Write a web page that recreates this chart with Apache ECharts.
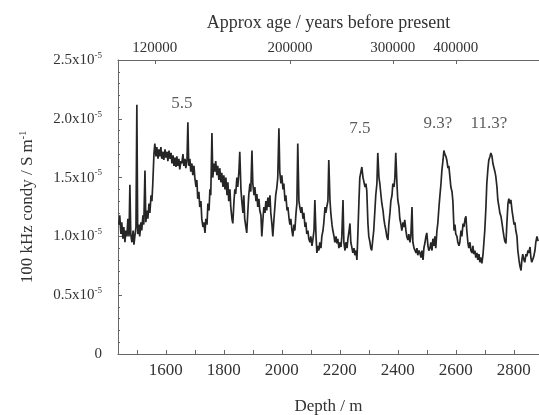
<!DOCTYPE html>
<html><head><meta charset="utf-8">
<script src="https://cdn.jsdelivr.net/npm/echarts@6/dist/echarts.min.js"></script>
<style>html,body{margin:0;padding:0;background:#fff}#c{width:539px;height:415px}</style>
</head><body><div id="c"></div>
<script>
// Depth (m) and conductivity (units of 1e-5 S/m)
var depths = [1438,1441,1445,1448,1452,1455,1459,1462,1466,1469,1473,1476,1479,1483,1487,1490,1493,1497,1500,1503,1507,1510,1514,1517,1521,1524,1528,1531,1535,1538,1542,1545,1549,1552,1555,1559,1562,1566,1569,1573,1576,1579,1583,1586,1590,1593,1597,1600,1604,1607,1611,1614,1618,1621,1625,1628,1632,1635,1638,1641,1645,1648,1652,1655,1659,1662,1666,1669,1673,1676,1679,1683,1686,1690,1693,1697,1700,1704,1707,1710,1714,1717,1721,1724,1728,1731,1735,1738,1742,1745,1749,1752,1755,1759,1762,1766,1769,1772,1776,1779,1783,1786,1790,1793,1797,1800,1804,1807,1811,1814,1817,1821,1824,1828,1831,1835,1838,1841,1845,1848,1852,1855,1859,1862,1866,1869,1872,1876,1879,1883,1886,1890,1893,1897,1900,1904,1907,1911,1914,1917,1921,1924,1928,1931,1935,1938,1942,1945,1948,1952,1955,1959,1962,1966,1969,1973,1976,1979,1983,1986,1990,1993,1997,2000,2004,2007,2011,2014,2018,2021,2025,2028,2031,2035,2038,2042,2045,2049,2052,2055,2059,2062,2066,2069,2073,2076,2080,2083,2086,2090,2093,2097,2100,2104,2107,2111,2114,2118,2121,2125,2128,2131,2135,2138,2142,2145,2149,2152,2155,2159,2162,2166,2169,2173,2176,2180,2183,2187,2190,2193,2197,2200,2204,2207,2211,2214,2218,2221,2225,2228,2232,2235,2238,2242,2245,2249,2252,2256,2259,2262,2266,2269,2273,2276,2280,2283,2287,2290,2293,2297,2300,2304,2307,2310,2314,2317,2321,2324,2328,2331,2335,2338,2342,2345,2349,2352,2355,2359,2362,2366,2369,2373,2376,2380,2383,2387,2390,2393,2397,2400,2404,2407,2411,2414,2418,2421,2424,2428,2431,2435,2438,2442,2445,2449,2452,2456,2459,2463,2466,2469,2473,2476,2480,2483,2487,2490,2494,2497,2500,2504,2507,2511,2514,2518,2521,2525,2528,2531,2535,2538,2542,2545,2549,2552,2556,2559,2562,2566,2569,2573,2576,2580,2583,2587,2590,2594,2597,2600,2604,2607,2611,2614,2618,2621,2625,2628,2632,2635,2638,2642,2645,2649,2652,2656,2659,2662,2666,2669,2673,2676,2680,2683,2687,2690,2694,2697,2700,2704,2707,2711,2714,2718,2721,2725,2728,2731,2735,2738,2742,2745,2749,2752,2756,2759,2763,2766,2769,2773,2776,2780,2783,2787,2790,2794,2797,2801,2804,2807,2811,2814,2818,2821,2825,2828,2831,2835,2838,2842,2845,2849,2852,2856,2859,2862,2866,2869,2873,2876,2880,2884];
var condy = [1.10,1.18,1.02,1.12,0.98,1.08,0.95,1.05,1.00,1.15,1.00,1.44,1.02,0.95,1.05,0.93,1.00,1.08,2.12,1.02,1.10,1.00,1.12,1.05,1.18,1.10,1.56,1.12,1.22,1.15,1.28,1.20,1.35,1.30,1.45,1.70,1.79,1.68,1.76,1.66,1.74,1.68,1.76,1.66,1.72,1.65,1.74,1.67,1.72,1.64,1.73,1.66,1.71,1.62,1.69,1.60,1.67,1.59,1.68,1.60,1.66,1.57,1.64,1.62,1.70,1.60,1.66,1.58,1.65,1.97,1.60,1.66,1.55,1.62,1.52,1.60,1.50,1.42,1.48,1.32,1.38,1.25,1.30,1.15,1.08,1.12,1.03,1.15,1.10,1.28,1.22,1.40,1.35,1.88,1.50,1.62,1.55,1.64,1.52,1.60,1.48,1.58,1.46,1.54,1.42,1.52,1.40,1.50,1.35,1.46,1.30,1.40,1.25,1.15,1.11,1.30,1.40,1.36,1.50,1.42,1.55,1.72,1.40,1.30,1.20,1.35,1.15,1.08,1.03,1.22,1.35,1.45,1.38,1.73,1.45,1.35,1.42,1.30,1.36,1.25,1.32,1.22,1.18,1.00,1.15,1.25,1.20,1.30,1.22,1.33,1.25,1.35,1.20,1.10,1.00,1.15,1.25,1.35,1.42,1.50,1.92,1.55,1.45,1.52,1.40,1.45,1.30,1.35,1.22,1.25,1.15,1.10,1.15,1.05,1.00,1.10,1.05,1.20,1.28,1.79,1.30,1.25,1.20,1.25,1.15,1.20,1.08,1.12,1.02,1.05,0.98,0.95,1.00,0.92,0.97,1.05,1.31,1.00,0.86,0.92,0.88,0.95,0.90,1.00,1.05,1.12,1.25,1.20,1.25,1.30,1.65,1.31,1.20,1.10,1.05,1.00,0.95,1.00,0.94,0.98,0.90,0.95,0.91,1.00,1.31,0.95,0.88,0.95,0.90,0.98,1.05,1.11,0.95,0.90,0.86,0.90,0.84,0.88,0.80,1.00,1.30,1.50,1.55,1.59,1.50,1.51,1.42,1.45,1.39,1.11,1.00,0.95,0.90,0.88,0.98,1.05,1.22,1.35,1.45,1.71,1.50,1.45,1.35,1.28,1.22,1.15,1.10,1.05,1.00,0.97,1.10,1.20,1.30,1.35,1.45,1.42,1.50,1.71,1.45,1.31,1.25,1.15,1.10,1.05,1.12,1.08,1.14,1.05,1.00,0.97,1.02,0.95,1.00,1.25,0.95,0.90,0.91,0.86,0.90,0.84,0.88,0.86,0.82,0.88,0.80,0.90,0.95,1.00,1.03,0.92,0.88,0.90,0.95,0.88,0.98,0.92,1.00,0.90,1.05,1.11,1.25,1.34,1.45,1.56,1.65,1.73,1.70,1.68,1.65,1.58,1.60,1.50,1.42,1.38,1.30,1.05,1.10,1.02,1.00,0.95,0.92,0.95,1.05,1.00,1.11,1.08,1.15,1.17,1.05,0.94,0.90,0.95,0.88,0.86,0.92,0.85,0.88,0.82,0.86,0.80,0.85,0.78,0.82,0.77,0.85,0.95,1.05,1.25,1.45,1.58,1.65,1.68,1.71,1.68,1.62,1.63,1.55,1.51,1.42,1.31,1.25,1.20,1.17,1.12,1.05,1.00,0.96,0.94,1.10,1.28,1.32,1.28,1.31,1.22,1.17,1.10,1.12,1.05,1.00,0.88,0.80,0.75,0.71,0.80,0.85,0.80,0.78,0.85,0.83,0.88,0.86,0.91,0.82,0.78,0.77,0.83,0.88,0.95,1.00,0.96];

// Bottom axis tick labels
var depthTicks = [1600,1800,2000,2200,2400,2600,2800];
var depthMinorTicks = [1500,1600,1700,1800,1900,2000,2100,2200,2300,2400,2500,2600,2700,2800];
// Top axis: depth positions and the approximate ages shown there
var ageDepths = [1562,2028,2383,2600];
var ageLabels = ['120000','200000','300000','400000'];
// Y ticks (units of 1e-5)
var yTicks = [0,0.5,1.0,1.5,2.0,2.5];
// Stage annotations
var stageNames = ['5.5','7.5','9.3?','11.3?'];
var stageDepth = [1655,2269,2538,2714];
var stageValue = [2.13,1.92,1.96,1.96];

var SERIF = '"Liberation Serif","DejaVu Serif",serif';
var TXT = '#333';
var AX = '#666';

var lineData = depths.map(function(d,i){return [d,condy[i]];});
var annoData = stageNames.map(function(n,i){return {name:n,value:[stageDepth[i],stageValue[i]]};});

var chart = echarts.init(document.getElementById('c'),null,{renderer:'canvas'});
chart.setOption({
  animation:false,
  backgroundColor:'#fff',
  grid:{left:118,right:0,top:60,bottom:61,containLabel:false,outerBoundsMode:'none'},
  xAxis:[{
    type:'value',min:1435,max:2887,position:'bottom',
    name:'Depth / m',nameLocation:'middle',nameGap:44,
    nameTextStyle:{fontFamily:SERIF,fontSize:17,color:TXT},
    axisLine:{lineStyle:{color:AX,width:1}},
    axisTick:{inside:true,length:4,lineStyle:{color:AX},customValues:depthMinorTicks},
    axisLabel:{customValues:depthTicks,fontFamily:SERIF,fontSize:17,color:TXT,margin:8,
      formatter:function(v){return String(v);}},
    splitLine:{show:false}
  },{
    type:'value',min:1435,max:2887,position:'top',
    name:'Approx age / years before present',nameLocation:'middle',nameGap:28,
    nameTextStyle:{fontFamily:SERIF,fontSize:18,color:TXT},
    axisLine:{show:true,lineStyle:{color:AX,width:1}},
    axisTick:{inside:true,length:4,lineStyle:{color:AX},customValues:ageDepths},
    axisLabel:{customValues:ageDepths,fontFamily:SERIF,fontSize:15,color:TXT,margin:4,
      formatter:function(v){var i=ageDepths.indexOf(v);return i>=0?ageLabels[i]:'';}},
    splitLine:{show:false}
  }],
  yAxis:{
    type:'value',min:0,max:2.5,
    name:'100 kHz condy / S m{sup|-1}',nameLocation:'middle',nameGap:80,nameRotate:90,
    nameTextStyle:{fontFamily:SERIF,fontSize:17,color:TXT,rich:{sup:{fontSize:10,fontFamily:SERIF,color:TXT,padding:[0,0,10,0]}}},
    axisLine:{show:true,lineStyle:{color:AX,width:1}},
    axisTick:{inside:true,length:4,lineStyle:{color:AX},customValues:yTicks},
    minorTick:{show:true,splitNumber:5,length:2,lineStyle:{color:AX}},
    axisLabel:{customValues:yTicks,fontFamily:SERIF,fontSize:15,color:TXT,margin:16,
      formatter:function(v){return v===0?'0':v.toFixed(1)+'x10{sup|-5}';},
      rich:{sup:{fontSize:9,fontFamily:SERIF,color:TXT,padding:[0,0,9,0]}}},
    splitLine:{show:false}
  },
  series:[{
    type:'line',data:lineData,showSymbol:false,symbol:'none',
    lineStyle:{color:'#262626',width:1.7},
    z:2
  },{
    type:'scatter',data:annoData,symbolSize:0,
    label:{show:true,position:'inside',formatter:'{b}',fontFamily:SERIF,fontSize:17,color:TXT},
    z:3
  }]
});
</script></body></html>
